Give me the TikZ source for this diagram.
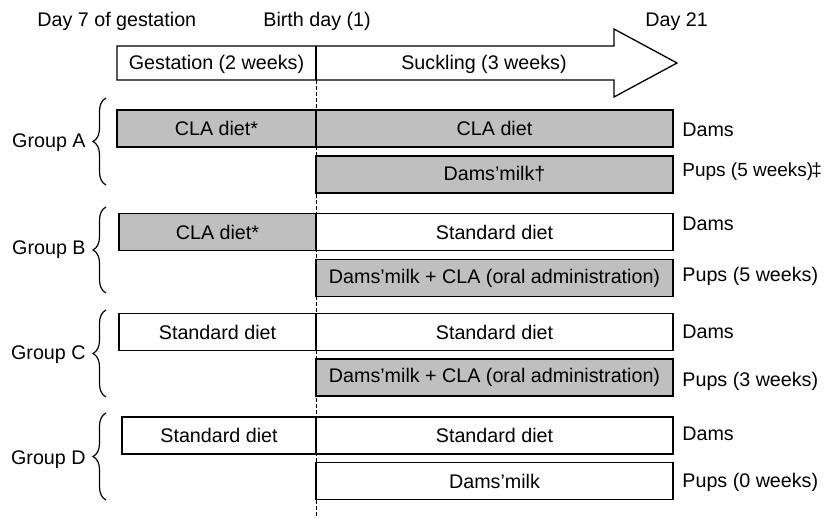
\documentclass[tikz,border=0pt]{standalone}
\usepackage{fontspec}
\setmainfont{Liberation Sans}
\usetikzlibrary{decorations.pathreplacing}
\begin{document}
\begin{tikzpicture}[x=0.5pt,y=-0.5pt,font=\fontsize{9.85}{12}\selectfont]
\tikzstyle{bar} = [rectangle, draw=black, line width=0.65pt, minimum height=18.5pt, inner sep=0pt]
\tikzstyle{cla} = [bar, fill=black!25]
\tikzstyle{std} = [bar, fill=white]
\tikzstyle{lbl} = [anchor=base west, inner sep=0pt]
\tikzstyle{grp} = [anchor=east, inner sep=0pt]
\tikzstyle{brace} = [draw=black, line width=0.6pt, decorate, decoration={brace, amplitude=6.5pt}]

\useasboundingbox (0,0) rectangle (824,518);

% time line
\node[lbl] (day7) at (37,27) {Day 7 of gestation};
\node[lbl] (birth) at (263,27) {Birth day (1)};
\node[lbl] (day21) at (645,27) {Day 21};
\draw[line width=0.65pt, fill=white] (117,46) -- (614,46) -- (614,29) -- (677,63) -- (614,97) -- (614,80) -- (117,80) -- cycle;
\draw[line width=0.6pt] (316,46) -- (316,80);
\draw[line width=0.5pt, dash pattern=on 2pt off 1pt] (316,80) -- (316,516);
\node (gest) at (216.5,64) {Gestation (2 weeks)};
\node (suck) at (484,64) {Suckling (3 weeks)};

% group A
\node[cla, minimum width=99.5pt] (a1) at (216.5,128.5) {CLA diet*};
\node[cla, minimum width=178.5pt] (a2) at (494.5,128.5) {CLA diet};
\node[cla, minimum width=178.5pt] (a3) at (494.5,174.5) {Dams’milk†};
\node[lbl] (da) at (682,137) {Dams};
\node[lbl, font=\fontsize{9.5}{12}\selectfont] (pa) at (682,177) {Pups (5 weeks)\kern-1pt‡};
\node[grp] (ga) at (86,143) {Group A};
\draw[brace] (106,185) -- (106,98);

% group B
\node[cla, minimum width=98.5pt] (b1) at (217.5,232) {CLA diet*};
\node[std, minimum width=178.5pt] (b2) at (494.5,232) {Standard diet};
\node[cla, minimum width=178.5pt] (b3) at (494.5,278) {Dams’milk + CLA (oral administration)};
\node[lbl] (db) at (682,231) {Dams};
\node[lbl] (pb) at (682,281) {Pups (5 weeks)};
\node[grp] (gb) at (86,250) {Group B};
\draw[brace] (106,293) -- (106,207);

% group C
\node[std, minimum width=98.5pt] (c1) at (217.5,332) {Standard diet};
\node[std, minimum width=178.5pt] (c2) at (494.5,332) {Standard diet};
\node[cla, minimum width=178.5pt] (c3) at (494.5,377.5) {Dams’milk + CLA (oral administration)};
\node[lbl] (dc) at (682,338) {Dams};
\node[lbl] (pc) at (682,386) {Pups (3 weeks)};
\node[grp] (gc) at (86,355) {Group C};
\draw[brace] (106,397) -- (106,310);

% group D
\node[std, minimum width=97pt] (d1) at (219,435.5) {Standard diet};
\node[std, minimum width=178.5pt] (d2) at (494.5,435.5) {Standard diet};
\node[std, minimum width=178.5pt] (d3) at (494.5,481) {Dams’milk};
\node[lbl] (dd) at (682,440) {Dams};
\node[lbl] (pd) at (682,487) {Pups (0 weeks)};
\node[grp] (gd) at (86,460) {Group D};
\draw[brace] (106,500) -- (106,413);
\end{tikzpicture}
\end{document}
